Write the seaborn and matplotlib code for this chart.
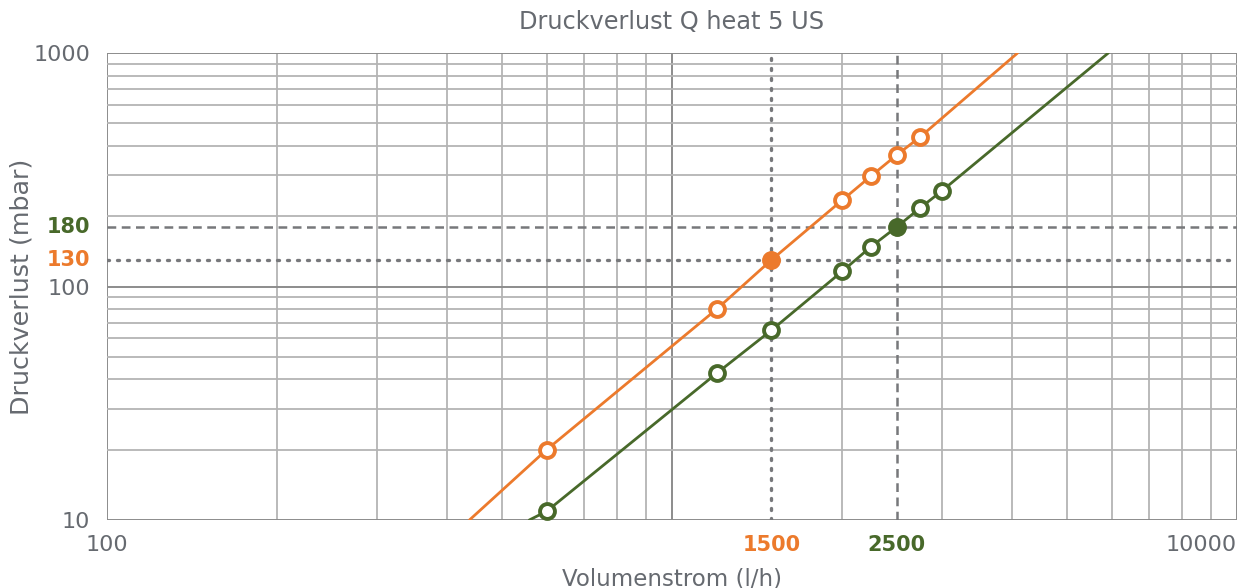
import seaborn as sns
import matplotlib.pyplot as plt
from matplotlib.ticker import FixedLocator, NullFormatter

# Druckverlust Q heat 5 US
flow_orange = [600, 1200, 1500, 2000, 2250, 2500, 2750]
dp_orange = [20, 80, 130, 234, 297, 366, 437]
flow_green = [600, 1200, 1500, 2000, 2250, 2500, 2750, 3000]
dp_green = [10.9, 42.5, 65, 116, 148, 180, 217, 256]

# curves run past the measured points to the plot edges
curve_orange_x = [438] + flow_orange + [4090]
curve_orange_y = [10] + dp_orange + [1000]
curve_green_x = [559] + flow_green + [5920]
curve_green_y = [10] + dp_green + [1000]

# highlighted operating points
op_flow = [1500, 2500]
op_dp = [130, 180]

orange = '#ec7a2c'
green = '#48692a'
grey_txt = '#666a70'
grid_minor = '#b4b4b4'
grid_major = '#8c8c8c'
ref_line = '#77787b'

sns.set_style('white')
plt.rcParams['font.family'] = ['DejaVu Sans']

fig = plt.figure(figsize=(12.53, 5.88), dpi=100)
ax = fig.add_axes([0.0854, 0.1156, 0.9018, 0.7943])
ax.set_xscale('log')
ax.set_yscale('log')
ax.set_xlim(100, 10000)
ax.set_ylim(10, 1000)

# grid
ax.xaxis.set_major_locator(FixedLocator([100, 1000, 10000]))
ax.yaxis.set_major_locator(FixedLocator([10, 100, 1000]))
ax.xaxis.set_minor_locator(FixedLocator([d * k for d in (100, 1000) for k in range(2, 10)]))
ax.yaxis.set_minor_locator(FixedLocator([d * k for d in (10, 100) for k in range(2, 10)]))
ax.xaxis.set_minor_formatter(NullFormatter())
ax.yaxis.set_minor_formatter(NullFormatter())
ax.grid(True, which='minor', color=grid_minor, lw=1.3)
ax.grid(True, which='major', color=grid_major, lw=1.4)
ax.set_axisbelow(True)
for s in ax.spines.values():
    s.set_visible(False)

# reference lines for the operating points
ax.axvline(1500, color=ref_line, lw=2.4, ls=(0, (0.6, 2.4)), dash_capstyle='round', zorder=1.5)
ax.axhline(130, color=ref_line, lw=2.4, ls=(0, (0.6, 2.4)), dash_capstyle='round', zorder=1.5)
ax.axvline(2500, color=ref_line, lw=1.8, ls=(0, (3.5, 2.2)), zorder=1.5)
ax.axhline(180, color=ref_line, lw=1.8, ls=(0, (3.5, 2.2)), zorder=1.5)

# curves
sns.lineplot(x=curve_orange_x, y=curve_orange_y, ax=ax, color=orange, lw=2, sort=False, zorder=3)
sns.lineplot(x=curve_green_x, y=curve_green_y, ax=ax, color=green, lw=2, sort=False, zorder=3)

# measured points (open circles)
sns.scatterplot(x=flow_orange, y=dp_orange, ax=ax, s=115, facecolor='white',
                edgecolor=orange, linewidth=2.8, zorder=4)
sns.scatterplot(x=flow_green, y=dp_green, ax=ax, s=115, facecolor='white',
                edgecolor=green, linewidth=2.8, zorder=4)
# operating points filled
sns.scatterplot(x=[op_flow[0]], y=[op_dp[0]], ax=ax, s=140, color=orange, edgecolor=orange, zorder=5)
sns.scatterplot(x=[op_flow[1]], y=[op_dp[1]], ax=ax, s=140, color=green, edgecolor=green, zorder=5)

# ticks and labels
ax.set_xticklabels(['100', '', '10000'])
ax.set_yticklabels(['10', '100', '1000'])
ax.tick_params(which='major', direction='out', length=6, width=1.2, color=grid_major,
               labelsize=16, labelcolor=grey_txt, pad=5)
ax.tick_params(axis='y', which='major', pad=6)
ax.tick_params(which='minor', length=0)
ax.get_xticklabels()[2].set_horizontalalignment('right')
ax.get_xticklabels()[2].set_x(1.003)

ax.annotate('180', xy=(0, 180), xycoords=ax.get_yaxis_transform(), xytext=(-12, 0),
            textcoords='offset points', ha='right', va='center', fontsize=15,
            fontweight='bold', color=green)
ax.annotate('130', xy=(0, 130), xycoords=ax.get_yaxis_transform(), xytext=(-12, 0),
            textcoords='offset points', ha='right', va='center', fontsize=15,
            fontweight='bold', color=orange)
ax.annotate('1500', xy=(1500, 0), xycoords=ax.get_xaxis_transform(), xytext=(0, -18),
            textcoords='offset points', ha='center', va='center', fontsize=15,
            fontweight='bold', color=orange)
ax.annotate('2500', xy=(2500, 0), xycoords=ax.get_xaxis_transform(), xytext=(0, -18),
            textcoords='offset points', ha='center', va='center', fontsize=15,
            fontweight='bold', color=green)

ax.set_title('Druckverlust Q heat 5 US', fontsize=17.3, color=grey_txt, pad=17)
ax.set_xlabel('Volumenstrom (l/h)', fontsize=16.5, color=grey_txt, labelpad=8.5)
ax.set_ylabel('Druckverlust (mbar)', fontsize=18.3, color=grey_txt, labelpad=0)

fig.savefig('out.png', dpi=100, facecolor='white')
